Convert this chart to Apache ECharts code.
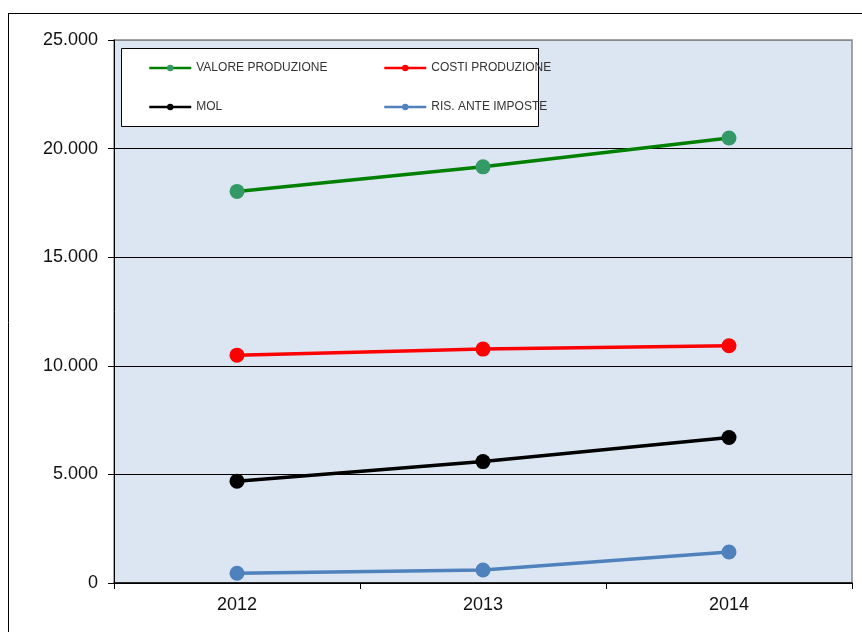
<!DOCTYPE html>
<html>
<head>
<meta charset="utf-8">
<script src="https://cdn.jsdelivr.net/npm/echarts@6/dist/echarts.min.js"></script>
<style>html,body{margin:0;padding:0;background:#fff}#c{width:862px;height:632px}</style>
</head>
<body>
<div id="c"></div>
<script>
var years = ['2012', '2013', '2014'];
var valoreProduzione = [18030, 19160, 20490];
var costiProduzione = [10490, 10770, 10920];
var mol = [4690, 5590, 6700];
var risAnteImposte = [450, 600, 1430];
var seriesNames = ['VALORE PRODUZIONE', 'COSTI PRODUZIONE', 'MOL', 'RIS. ANTE IMPOSTE'];

var chart = echarts.init(document.getElementById('c'), null, {renderer: 'canvas'});
var font = 'Liberation Sans, Arial, sans-serif';
function fmt(v) { return String(v).replace(/\B(?=(\d{3})+(?!\d))/g, '.'); }
function mkLegend(name, left, top) {
  return {
    data: [name], left: left, top: top, itemWidth: 42, itemHeight: 8, itemGap: 5, padding: 0,
    lineStyle: {width: 2.5},
    textStyle: {fontFamily: font, fontSize: 12, color: '#333'},
    selectedMode: false, z: 20
  };
}
function mkSeries(name, data, lineColor, dotColor) {
  return {
    name: name, type: 'line', data: data, symbol: 'circle', symbolSize: 15,
    lineStyle: {color: lineColor, width: 3.5},
    itemStyle: {color: dotColor},
    emphasis: {disabled: true}, z: 5
  };
}
chart.setOption({
  animation: false,
  backgroundColor: '#fff',
  graphic: [
    {type: 'line', shape: {x1: 8, y1: 13.5, x2: 862, y2: 13.5}, style: {stroke: '#000', lineWidth: 1}, z: 0},
    {type: 'line', shape: {x1: 8.5, y1: 13, x2: 8.5, y2: 632}, style: {stroke: '#000', lineWidth: 1}, z: 0},
    {type: 'rect', shape: {x: 121.5, y: 48.5, width: 417, height: 78}, style: {fill: '#fff', stroke: '#000', lineWidth: 1}, z: 3}
  ],
  legend: [
    mkLegend(seriesNames[0], 148, 62),
    mkLegend(seriesNames[1], 383, 62),
    mkLegend(seriesNames[2], 148, 101),
    mkLegend(seriesNames[3], 383, 101)
  ],
  grid: {left: 114, right: 10, top: 40, bottom: 49, show: true, backgroundColor: '#DCE6F2', borderColor: '#888', borderWidth: 1.5},
  xAxis: {
    type: 'category', data: years, boundaryGap: true,
    axisLine: {lineStyle: {color: '#000', width: 1.5}},
    axisTick: {show: true, length: 6, lineStyle: {color: '#000'}},
    axisLabel: {fontFamily: font, fontSize: 18, color: '#111', margin: 13},
    splitLine: {show: false}
  },
  yAxis: {
    type: 'value', min: 0, max: 25000, interval: 5000,
    axisLine: {show: true, lineStyle: {color: '#000', width: 1}},
    axisTick: {show: true, inside: false, length: 6, lineStyle: {color: '#000'}},
    axisLabel: {fontFamily: font, fontSize: 18, color: '#111', margin: 16, formatter: fmt},
    splitLine: {show: true, lineStyle: {color: ['#000', '#000', '#000', '#000', '#000', '#888'], width: 1}}
  },
  series: [
    mkSeries(seriesNames[0], valoreProduzione, '#008000', '#339966'),
    mkSeries(seriesNames[1], costiProduzione, '#FF0000', '#FF0000'),
    mkSeries(seriesNames[2], mol, '#000000', '#000000'),
    mkSeries(seriesNames[3], risAnteImposte, '#4F81BD', '#4F81BD')
  ]
});
</script>
</body>
</html>
